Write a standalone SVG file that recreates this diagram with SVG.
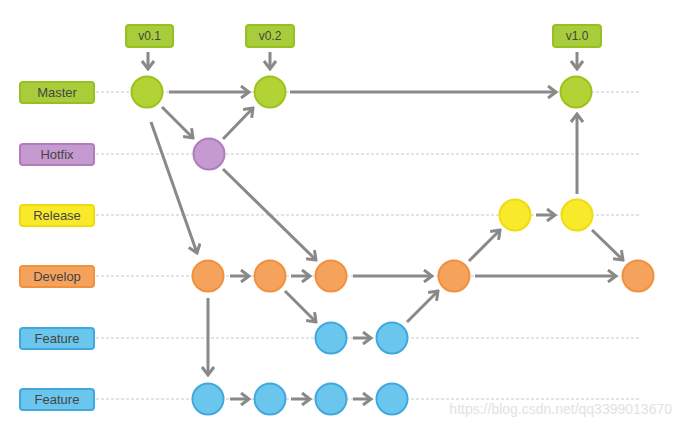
<svg xmlns="http://www.w3.org/2000/svg" width="682" height="432" viewBox="0 0 682 432">
<defs>
<style>
.lbl{font-family:"Liberation Sans",Arial,sans-serif;font-size:13px;fill:#454545;text-anchor:middle;dominant-baseline:central}
.tag{font-family:"Liberation Sans",Arial,sans-serif;font-size:12px;fill:#454545;text-anchor:middle;dominant-baseline:central}
.lane{stroke:#c8c8c8;stroke-width:1;stroke-dasharray:3,2;fill:none}
.g{fill:#b2d235;stroke:#9cc21c;stroke-width:2}
.gb{fill:#a9cd3a;stroke:#95c020;stroke-width:2}
.p{fill:#c49ad0;stroke:#b07cbf;stroke-width:2}
.y{fill:#f8ea2a;stroke:#efdb10;stroke-width:2}
.o{fill:#f5a25c;stroke:#f0913e;stroke-width:2}
.b{fill:#6ac6ec;stroke:#40a8df;stroke-width:2}
.c line{stroke:#898989;stroke-width:3;fill:none;marker-end:url(#ah)}
</style>
<marker id="ah" viewBox="0 0 12 14" refX="10" refY="7" markerWidth="12" markerHeight="14" markerUnits="userSpaceOnUse" orient="auto">
<path d="M2,1 L10,7 L2,13" fill="none" stroke="#898989" stroke-width="3"/>
</marker>
</defs>
<rect width="682" height="432" fill="#ffffff"/>
<g id="lanes">
<line class="lane" x1="96" y1="92" x2="640" y2="92"/>
<line class="lane" x1="96" y1="154" x2="640" y2="154"/>
<line class="lane" x1="96" y1="215" x2="640" y2="215"/>
<line class="lane" x1="96" y1="276" x2="640" y2="276"/>
<line class="lane" x1="96" y1="338" x2="640" y2="338"/>
<line class="lane" x1="96" y1="399" x2="640" y2="399"/>
</g>
<g id="label-master"><rect class="gb" x="20" y="82" width="74" height="21" rx="3"/><text class="lbl" x="57" y="92.5">Master</text></g>
<g id="label-hotfix"><rect class="p" x="20" y="144" width="74" height="21" rx="3"/><text class="lbl" x="57" y="154.5">Hotfix</text></g>
<g id="label-release"><rect class="y" x="20" y="205" width="74" height="21" rx="3"/><text class="lbl" x="57" y="215.5">Release</text></g>
<g id="label-develop"><rect class="o" x="20" y="266" width="74" height="21" rx="3"/><text class="lbl" x="57" y="276.5">Develop</text></g>
<g id="label-feature1"><rect class="b" x="20" y="328" width="74" height="21" rx="3"/><text class="lbl" x="57" y="338.5">Feature</text></g>
<g id="label-feature2"><rect class="b" x="20" y="389" width="74" height="21" rx="3"/><text class="lbl" x="57" y="399.5">Feature</text></g>
<g id="tag-v01"><rect class="gb" x="126" y="25" width="47" height="22" rx="3"/><text class="tag" x="149.5" y="36">v0.1</text></g>
<g id="tag-v02"><rect class="gb" x="246" y="25" width="48" height="22" rx="3"/><text class="tag" x="270" y="36">v0.2</text></g>
<g id="tag-v10"><rect class="gb" x="553" y="25" width="48" height="22" rx="3"/><text class="tag" x="577" y="36">v1.0</text></g>
<g id="connectors" class="c">
<line x1="148" y1="52" x2="148" y2="69"/>
<line x1="270" y1="52" x2="270" y2="69"/>
<line x1="577" y1="52" x2="577" y2="69"/>
<line x1="169" y1="92" x2="249" y2="92"/>
<line x1="162" y1="107" x2="193" y2="138"/>
<line x1="223" y1="139" x2="253" y2="108"/>
<line x1="151" y1="122" x2="197" y2="253"/>
<line x1="223" y1="169" x2="316" y2="260"/>
<line x1="290" y1="92" x2="556" y2="92"/>
<line x1="230" y1="276" x2="249" y2="276"/>
<line x1="291" y1="276" x2="310" y2="276"/>
<line x1="285" y1="291" x2="316" y2="322"/>
<line x1="208" y1="298" x2="208" y2="375"/>
<line x1="353" y1="276" x2="432" y2="276"/>
<line x1="353" y1="338" x2="371" y2="338"/>
<line x1="407" y1="322" x2="438" y2="291"/>
<line x1="469" y1="261" x2="500" y2="230"/>
<line x1="536" y1="215" x2="555" y2="215"/>
<line x1="577" y1="194" x2="577" y2="114"/>
<line x1="592" y1="230" x2="623" y2="260"/>
<line x1="475" y1="276" x2="616" y2="276"/>
<line x1="230" y1="399" x2="249" y2="399"/>
<line x1="291" y1="399" x2="310" y2="399"/>
<line x1="353" y1="399" x2="371" y2="399"/>
</g>
<g id="m1"><circle class="g" cx="147" cy="92" r="15.5"/></g>
<g id="m2"><circle class="g" cx="270" cy="92" r="15.5"/></g>
<g id="m3"><circle class="g" cx="576" cy="92" r="15.5"/></g>
<g id="h1"><circle class="p" cx="209" cy="154" r="15.5"/></g>
<g id="r1"><circle class="y" cx="515" cy="215" r="15.5"/></g>
<g id="r2"><circle class="y" cx="577" cy="215" r="15.5"/></g>
<g id="d1"><circle class="o" cx="208" cy="276" r="15.5"/></g>
<g id="d2"><circle class="o" cx="270" cy="276" r="15.5"/></g>
<g id="d3"><circle class="o" cx="331" cy="276" r="15.5"/></g>
<g id="d4"><circle class="o" cx="454" cy="276" r="15.5"/></g>
<g id="d5"><circle class="o" cx="638" cy="276" r="15.5"/></g>
<g id="f1a"><circle class="b" cx="331" cy="338" r="15.5"/></g>
<g id="f1b"><circle class="b" cx="392" cy="338" r="15.5"/></g>
<g id="f2a"><circle class="b" cx="208" cy="399" r="15.5"/></g>
<g id="f2b"><circle class="b" cx="270" cy="399" r="15.5"/></g>
<g id="f2c"><circle class="b" cx="331" cy="399" r="15.5"/></g>
<g id="f2d"><circle class="b" cx="392" cy="399" r="15.5"/></g>
<text x="672" y="414" font-family="'Liberation Sans',Arial,sans-serif" font-size="14" fill="#e2e2e2" text-anchor="end">https://blog.csdn.net/qq3399013670</text>
</svg>
